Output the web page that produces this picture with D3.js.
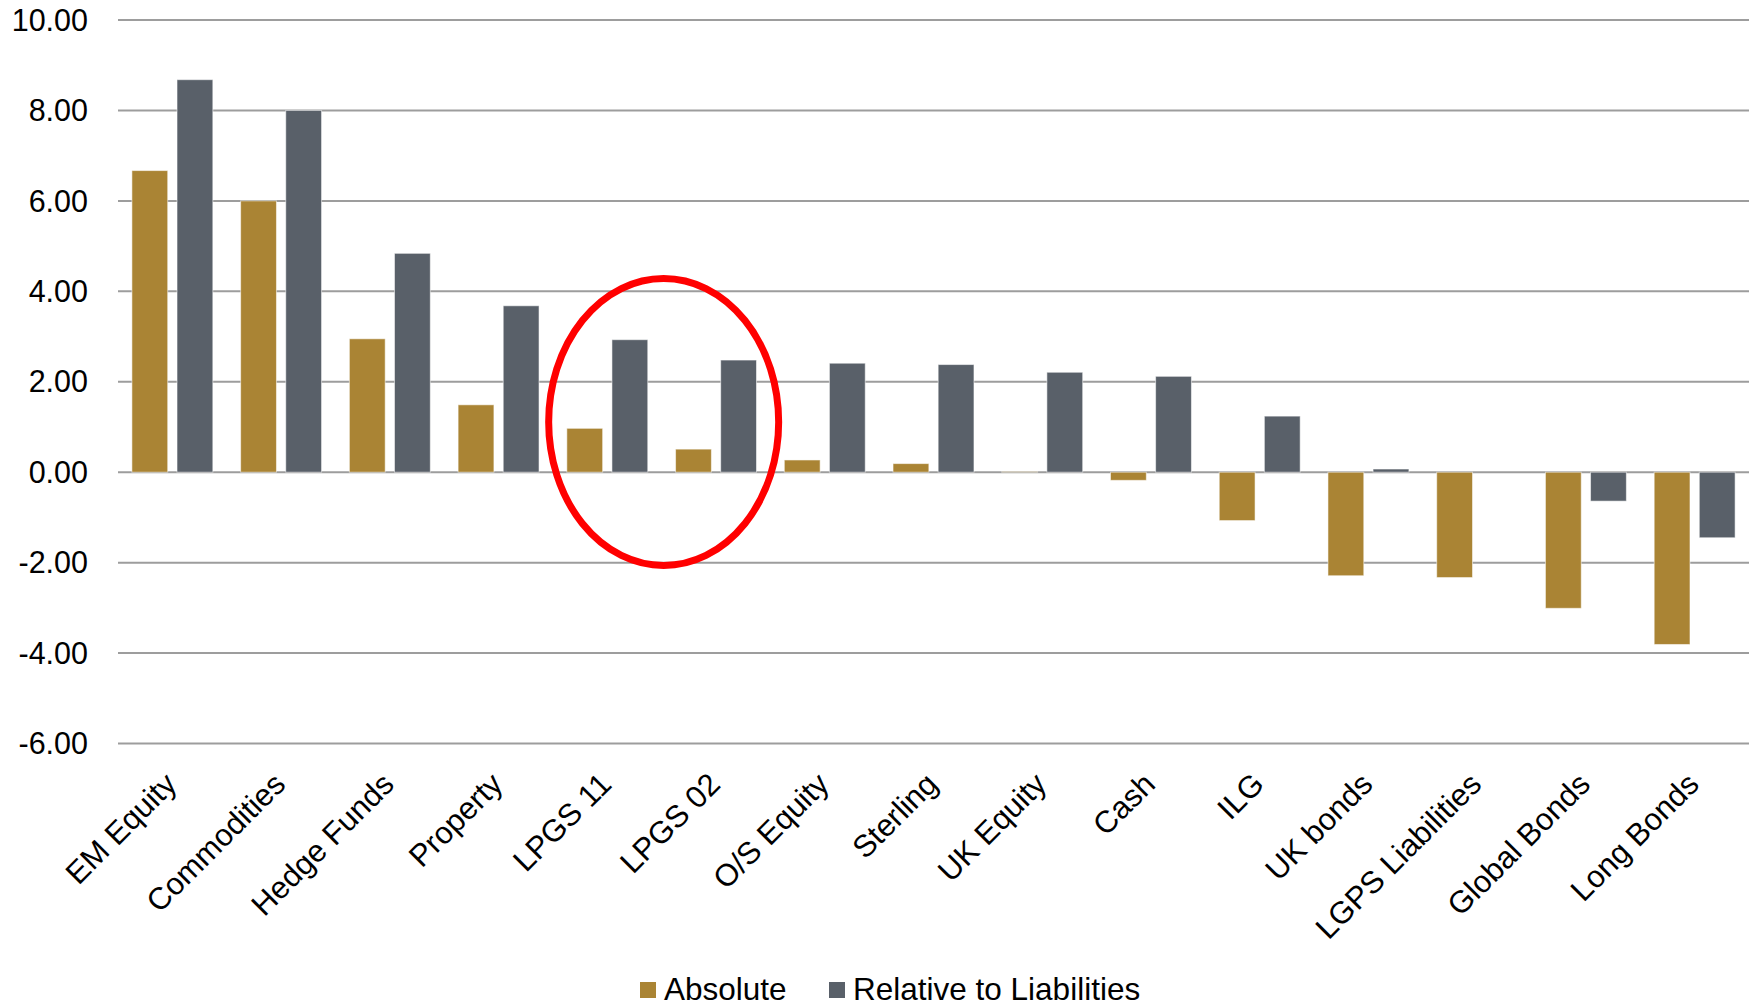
<!DOCTYPE html>
<html>
<head>
<meta charset="utf-8">
<script src="https://cdn.jsdelivr.net/npm/d3@7/dist/d3.min.js"></script>
<style>
  html, body { margin: 0; padding: 0; background: #ffffff; }
  svg { display: block; }
  text { font-family: "Liberation Sans", Arial, sans-serif; fill: #000; }
</style>
</head>
<body>
<svg id="chart" width="1754" height="1006"></svg>
<script>
// Asset classes, ordered from best to worst absolute return
const categories = [
  "EM Equity", "Commodities", "Hedge Funds", "Property", "LPGS 11", "LPGS 02",
  "O/S Equity", "Sterling", "UK Equity", "Cash", "ILG", "UK bonds",
  "LGPS Liabilities", "Global Bonds", "Long Bonds"
];
const seriesNames = ["Absolute", "Relative to Liabilities"];
const absoluteValues = [6.67, 6.00, 2.95, 1.49, 0.97, 0.51, 0.27, 0.19, 0.01, -0.18, -1.07, -2.29, -2.33, -3.01, -3.81];
const relativeValues = [8.68, 8.00, 4.84, 3.68, 2.93, 2.48, 2.41, 2.38, 2.21, 2.12, 1.24, 0.07, 0.00, -0.64, -1.45];
const yTicks = [10, 8, 6, 4, 2, 0, -2, -4, -6];
const seriesColors = ["#aa8434", "#596069"];
// Highlighted pair of categories
const highlighted = ["LPGS 11", "LPGS 02"];

const svg = d3.select("#chart");
const plot = { left: 118, right: 1749, top: 20, bottom: 743.5 };

const y = d3.scaleLinear().domain([-6, 10]).range([plot.bottom, plot.top]);
const x0 = d3.scaleBand().domain(categories).range([plot.left, plot.right]).padding(0);
const edge = 13.9;
const x1 = d3.scaleBand().domain(seriesNames)
  .range([edge, x0.bandwidth() - edge]).paddingInner(0.206);
const color = d3.scaleOrdinal().domain(seriesNames).range(seriesColors);

// Horizontal gridlines
svg.append("g").selectAll("line").data(yTicks).join("line")
  .attr("x1", plot.left).attr("x2", plot.right)
  .attr("y1", d => y(d)).attr("y2", d => y(d))
  .attr("stroke", "#9d9d9d").attr("stroke-width", 2);

// Y-axis labels (plain hyphen for negatives)
const fmt = d3.format(".2f");
svg.append("g").selectAll("text").data(yTicks).join("text")
  .attr("x", 88).attr("y", d => y(d)).attr("dy", "0.35em")
  .attr("text-anchor", "end").style("font-size", "30.5px")
  .text(d => fmt(d).replace("\u2212", "-"));

// Bars
const rows = categories.map((c, i) => ({
  category: c,
  values: [
    { series: seriesNames[0], value: absoluteValues[i] },
    { series: seriesNames[1], value: relativeValues[i] }
  ]
}));

svg.append("g").selectAll("g").data(rows).join("g")
  .attr("transform", d => `translate(${x0(d.category)},0)`)
  .selectAll("rect").data(d => d.values.filter(v => v.value !== 0)).join("rect")
  .attr("x", d => x1(d.series))
  .attr("width", x1.bandwidth())
  .attr("y", d => y(Math.max(0, d.value)))
  .attr("height", d => Math.abs(y(d.value) - y(0)))
  .attr("fill", d => color(d.series))
  .attr("stroke", "#ffffff").attr("stroke-opacity", 0.55).attr("stroke-width", 1);

// Category labels, rotated
svg.append("g").selectAll("text").data(categories).join("text")
  .attr("transform", d => `translate(${x0(d) + x0.bandwidth() / 2 + 6},786) rotate(-45)`)
  .attr("text-anchor", "end").style("font-size", "31px")
  .text(d => d);

// Red ellipse around the highlighted pair
const hx = (x0(highlighted[0]) + x0(highlighted[1]) + x0.bandwidth()) / 2;
svg.append("ellipse")
  .attr("cx", hx + 2).attr("cy", y(1.11))
  .attr("rx", 115).attr("ry", 143.5)
  .attr("fill", "none").attr("stroke", "#ff0000").attr("stroke-width", 7);

// Legend
const legendItems = [
  { name: seriesNames[0], sx: 640, tx: 664 },
  { name: seriesNames[1], sx: 829, tx: 853 }
];
const legend = svg.append("g");
legend.selectAll("rect").data(legendItems).join("rect")
  .attr("x", d => d.sx).attr("y", 982).attr("width", 16).attr("height", 16)
  .attr("fill", d => color(d.name));
legend.selectAll("text").data(legendItems).join("text")
  .attr("x", d => d.tx).attr("y", 1000)
  .style("font-size", "31.5px")
  .text(d => d.name);
</script>
</body>
</html>
